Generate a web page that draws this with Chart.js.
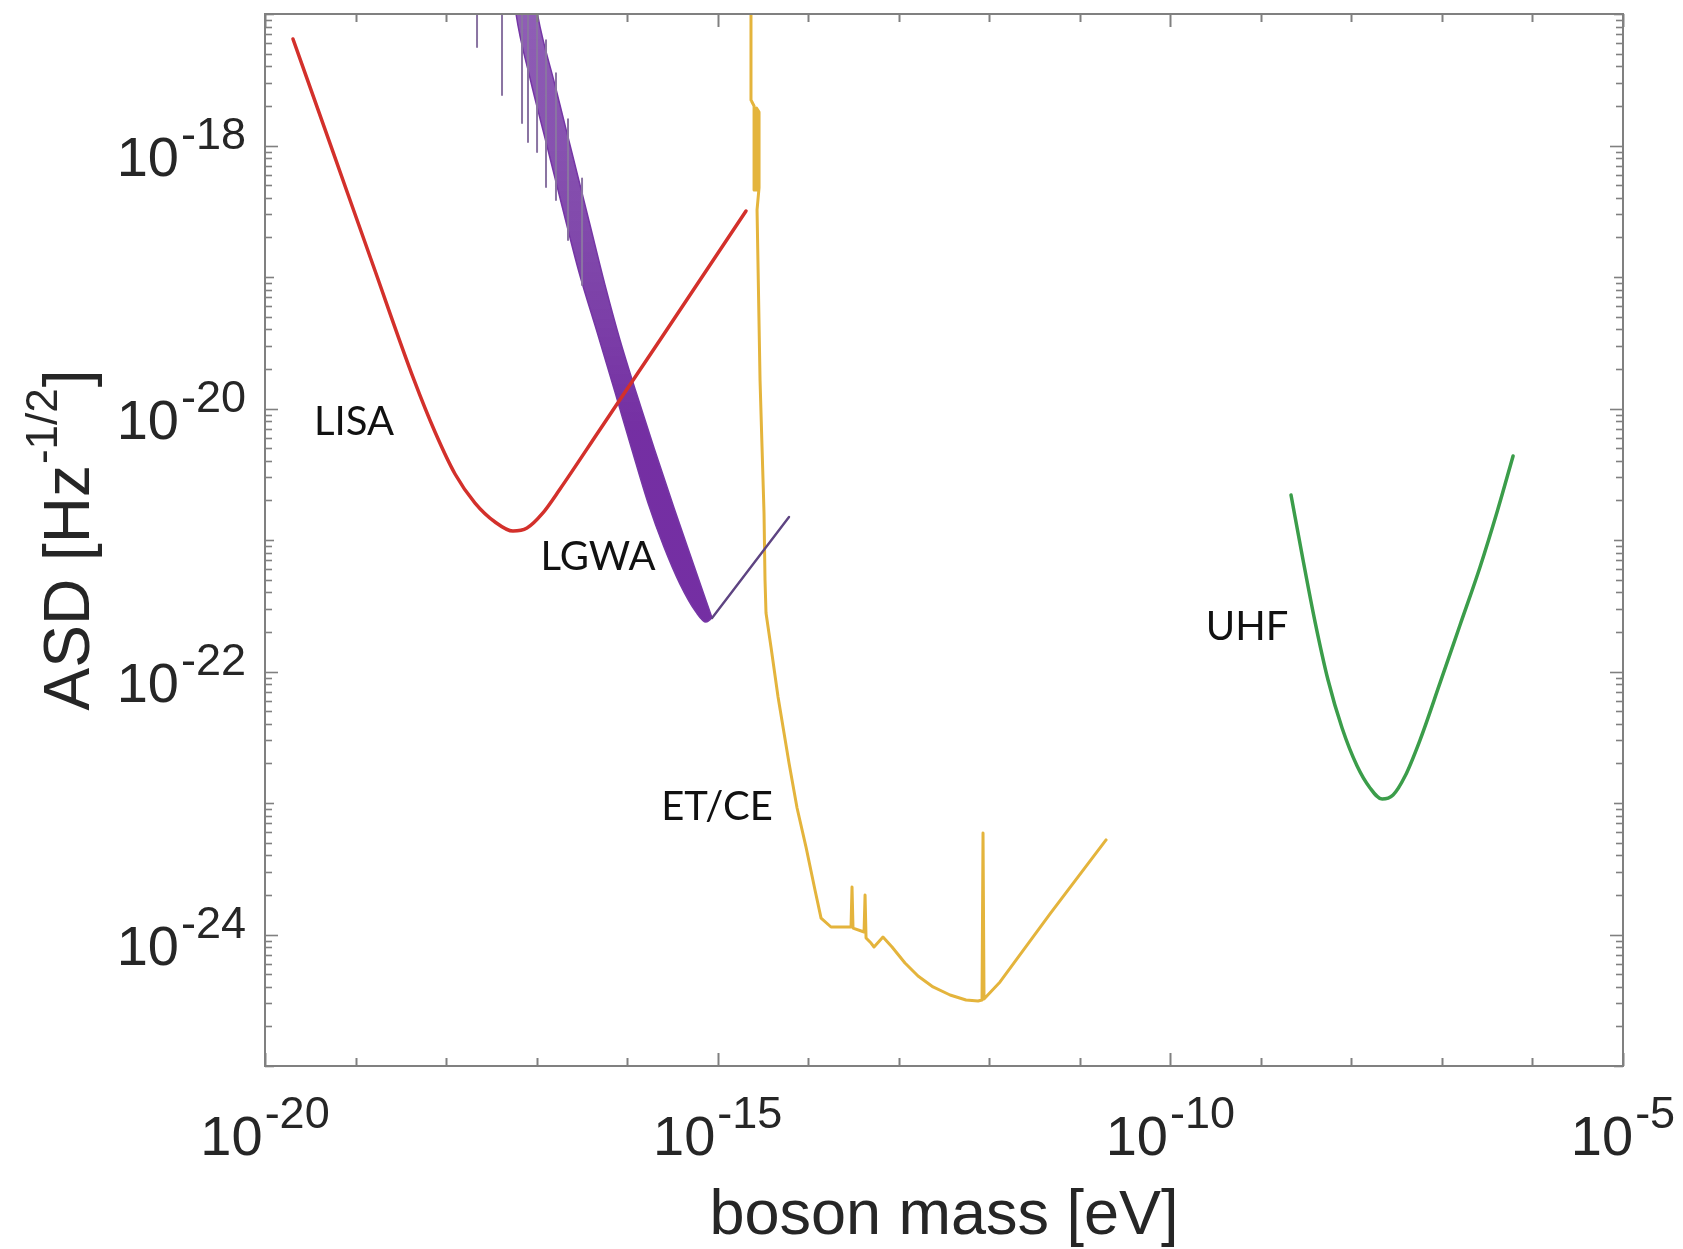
<!DOCTYPE html>
<html>
<head>
<meta charset="utf-8">
<title>Boson mass sensitivity</title>
<script src="https://cdn.jsdelivr.net/npm/chart.js@4.4.1/dist/chart.umd.min.js"></script>
<style>
  html, body { margin: 0; padding: 0; background: #ffffff; }
  #wrap { width: 1683px; height: 1249px; }
</style>
</head>
<body>
<div id="wrap"><canvas id="c" width="1683" height="1249"></canvas></div>
<script>
// All values are base-10 exponents: boson mass in eV, ASD in Hz^-1/2.

// LISA
const lisaLogMass = [-19.691, -19.249, -18.807, -18.354, -18.122, -17.901, -17.680, -17.459, -17.261, -17.106, -16.940, -16.741, -16.311, -15.637, -14.687];
const lisaLogAsd  = [-17.190, -18.049, -18.909, -19.783, -20.179, -20.498, -20.719, -20.863, -20.932, -20.909, -20.802, -20.612, -20.171, -19.479, -18.498];

// LGWA: upper and lower envelope of the dense resonance band
const lgwaUpperLogMass = [-17.349, -16.984, -16.797, -16.609, -16.421, -16.233, -16.079, -15.902, -15.703, -15.482, -15.261, -15.062];
const lgwaUpperLogAsd  = [-15.400, -17.023, -17.540, -18.057, -18.574, -19.091, -19.479, -19.875, -20.300, -20.757, -21.198, -21.593];
const lgwaLowerLogMass = [-17.349, -17.227, -17.073, -16.896, -16.719, -16.532, -16.322, -16.134, -15.946, -15.769, -15.593, -15.416, -15.239, -15.129, -15.062];
const lgwaLowerLogAsd  = [-16.285, -17.000, -17.487, -17.973, -18.460, -18.962, -19.441, -19.875, -20.316, -20.719, -21.053, -21.335, -21.548, -21.624, -21.593];
// LGWA: single resonance dips (from the curve down to the dip floor)
const lgwaDipLogMass = [-17.658, -17.382, -17.161, -17.095, -16.995, -16.896, -16.786, -16.653, -16.498];
const lgwaDipLogTop  = [-16.500, -16.500, -16.600, -16.700, -16.900, -17.200, -17.450, -17.800, -18.250];
const lgwaDipLogTip  = [-17.251, -17.616, -17.829, -17.973, -18.049, -18.316, -18.414, -18.719, -19.061];
// LGWA: high-mass tail
const lgwaTailLogMass = [-15.062, -14.212];
const lgwaTailLogAsd  = [-21.593, -20.825];

// ET/CE (the narrow resonance cluster near 2e-15 eV is traced back and forth)
const etLogMass = [-14.654, -14.632, -14.632, -14.598, -14.598, -14.571, -14.571, -14.543, -14.543, -14.565,
                   -14.532, -14.510, -14.488, -14.477, -14.466, -14.411, -14.333, -14.212, -14.123, -14.024, -13.925,
                   -13.858, -13.748, -13.582, -13.527, -13.516, -13.505, -13.383, -13.372, -13.361, -13.306, -13.273, -13.174,
                   -13.074, -12.931, -12.787, -12.621, -12.433, -12.257, -12.124, -12.080, -12.069, -12.058, -11.881, -11.329, -10.710];
const etLogAsd  = [-16.437, -17.000, -17.654, -17.700, -18.338, -18.338, -17.715, -17.745, -18.323, -18.490,
                   -19.783, -20.293, -20.795, -21.304, -21.555, -21.814, -22.194, -22.696, -23.038, -23.335, -23.662,
                   -23.875, -23.943, -23.943, -23.943, -23.639, -23.951, -23.981, -23.700, -24.027, -24.065, -24.095, -24.019,
                   -24.095, -24.217, -24.316, -24.399, -24.460, -24.498, -24.506, -24.498, -23.228, -24.490, -24.361, -23.844, -23.281];

// UHF
const uhfLogMass = [-8.667, -8.534, -8.401, -8.258, -8.103, -7.937, -7.794, -7.661, -7.540, -7.407, -7.242, -7.021, -6.800, -6.579, -6.391, -6.214];
const uhfLogAsd  = [-20.658, -21.152, -21.624, -22.065, -22.430, -22.719, -22.886, -22.970, -22.939, -22.795, -22.521, -22.087, -21.646, -21.205, -20.787, -20.361];

// Axis range and labelled tick exponents
const xRangeExp = [-20, -5];
const yRangeExp = [-25, -17];
const xTickExponents = [-20, -15, -10, -5];
const yTickExponents = [-24, -22, -20, -18];

// Curve names and where they are written (exponents of mass, ASD)
const curveNames = ['LISA', 'LGWA', 'ET/CE', 'UHF'];
const nameLogMass = [-19.017, -16.322, -15.007, -9.153];
const nameLogAsd  = [-20.103, -21.129, -23.030, -21.662];

// ---------------------------------------------------------------
const pow10 = v => Math.pow(10, v);
const toPoints = (m, a) => m.map((v, i) => ({ x: pow10(v), y: pow10(a[i]) }));
const dipPoints = () => {
  const out = [];
  lgwaDipLogMass.forEach((m, i) => {
    out.push({ x: pow10(m), y: pow10(lgwaDipLogTop[i]) });
    out.push({ x: pow10(m), y: pow10(lgwaDipLogTip[i]) });
    out.push({ x: pow10(m), y: null });
  });
  return out;
};

const AXIS = '#808080';
const INK = '#262626';
const TICK_FONT = '"Liberation Sans", Arial, Helvetica, sans-serif';

function bandFill(c) {
  const chart = c.chart;
  const area = chart.chartArea;
  if (!area) return 'rgba(112,48,160,0.9)';
  const g = chart.ctx.createLinearGradient(0, area.top, 0, area.bottom);
  g.addColorStop(0, 'rgba(116,54,164,0.8)');
  g.addColorStop(0.25, 'rgba(112,48,160,0.9)');
  g.addColorStop(0.4, 'rgba(112,40,160,0.97)');
  g.addColorStop(1, 'rgba(112,40,160,0.97)');
  return g;
}

function drawPower(ctx, exp, x, baseY, align) {
  const baseFont = '56px ' + TICK_FONT;
  const supFont = '45px ' + TICK_FONT;
  const sup = String(exp);
  ctx.font = baseFont;
  const wBase = ctx.measureText('10').width;
  ctx.font = supFont;
  const wSup = ctx.measureText(sup).width;
  const gap = 2;
  const total = wBase + gap + wSup;
  const left = align === 'center' ? x - total / 2 : x - total;
  ctx.textAlign = 'left';
  ctx.textBaseline = 'alphabetic';
  ctx.font = baseFont;
  ctx.fillText('10', left, baseY);
  ctx.font = supFont;
  ctx.fillText(sup, left + wBase + gap, baseY - 27);
}

// MATLAB-style boxed axes: inward ticks on all four sides, 10^n labels, titles, curve names
const boxedAxes = {
  id: 'boxedAxes',
  afterDatasetsDraw(chart) {
    const { ctx, chartArea: a, scales: { x, y } } = chart;
    ctx.save();
    ctx.strokeStyle = AXIS;
    ctx.lineWidth = 2;
    ctx.lineCap = 'butt';
    const seg = (x1, y1, x2, y2) => { ctx.beginPath(); ctx.moveTo(x1, y1); ctx.lineTo(x2, y2); ctx.stroke(); };

    // x ticks at every decade
    for (let e = xRangeExp[0]; e <= xRangeExp[1]; e++) {
      const px = Math.round(x.getPixelForValue(pow10(e))) + 0.5;
      const len = xTickExponents.includes(e) ? 13 : 8;
      seg(px, a.bottom, px, a.bottom - len);
      seg(px, a.top, px, a.top + len);
    }
    // y ticks: decades and 2..9 minor ticks
    ctx.lineWidth = 1.6;
    for (let e = yRangeExp[0]; e <= yRangeExp[1]; e++) {
      for (let m = 1; m <= 9; m++) {
        if (e === yRangeExp[1] && m > 1) break;
        const py = Math.round(y.getPixelForValue(m * pow10(e))) + 0.5;
        const len = m === 1 ? (yTickExponents.includes(e) ? 13 : 9) : 7;
        seg(a.left, py, a.left + len, py);
        seg(a.right, py, a.right - len, py);
      }
    }
    // frame
    ctx.lineWidth = 2;
    ctx.strokeRect(a.left, a.top, a.right - a.left, a.bottom - a.top);

    // tick labels
    ctx.fillStyle = INK;
    xTickExponents.forEach(e => drawPower(ctx, e, x.getPixelForValue(pow10(e)), a.bottom + 89, 'center'));
    yTickExponents.forEach(e => drawPower(ctx, e, a.left - 19, y.getPixelForValue(pow10(e)) + 30, 'right'));

    // axis titles
    ctx.font = '63px ' + TICK_FONT;
    ctx.textAlign = 'center';
    ctx.textBaseline = 'alphabetic';
    ctx.fillText('boson mass [eV]', (a.left + a.right) / 2, 1234);

    ctx.save();
    ctx.translate(89, (a.top + a.bottom) / 2);
    ctx.rotate(-Math.PI / 2);
    const mainFont = '64px ' + TICK_FONT;
    const supFont = '44px ' + TICK_FONT;
    ctx.font = mainFont; const w1 = ctx.measureText('ASD [Hz').width; const w3 = ctx.measureText(']').width;
    ctx.font = supFont; const w2 = ctx.measureText('-1/2').width;
    let sx = -(w1 + w2 + w3 + 2) / 2;
    ctx.textAlign = 'left';
    ctx.font = mainFont; ctx.fillText('ASD [Hz', sx, 0); sx += w1 + 1;
    ctx.font = supFont; ctx.fillText('-1/2', sx, -32); sx += w2 + 1;
    ctx.font = mainFont; ctx.fillText(']', sx, 0);
    ctx.restore();

    // curve names
    ctx.fillStyle = '#111111';
    ctx.font = '40px Lato, "Open Sans", sans-serif';
    ctx.textAlign = 'center';
    ctx.textBaseline = 'middle';
    curveNames.forEach((t, i) => {
      ctx.fillText(t, x.getPixelForValue(pow10(nameLogMass[i])), y.getPixelForValue(pow10(nameLogAsd[i])));
    });
    ctx.restore();
  }
};

const common = { pointRadius: 0, pointHoverRadius: 0, pointHitRadius: 0, borderJoinStyle: 'round', borderCapStyle: 'round', fill: false };

new Chart(document.getElementById('c'), {
  type: 'line',
  data: {
    datasets: [
      { ...common, label: 'LISA', data: toPoints(lisaLogMass, lisaLogAsd), borderColor: '#d3302b', borderWidth: 3.5, cubicInterpolationMode: 'monotone', order: 1 },
      { ...common, label: 'LGWA tail', data: toPoints(lgwaTailLogMass, lgwaTailLogAsd), borderColor: '#5e4482', borderWidth: 2.4, order: 2 },
      { ...common, label: 'LGWA dips', data: dipPoints(), borderColor: '#8a74a2', borderWidth: 2, spanGaps: false, borderCapStyle: 'butt', order: 3 },
      { ...common, label: 'LGWA lower', data: toPoints(lgwaLowerLogMass, lgwaLowerLogAsd), borderColor: '#7536a5', borderWidth: 1.5, cubicInterpolationMode: 'monotone', order: 4 },
      { ...common, label: 'LGWA upper', data: toPoints(lgwaUpperLogMass, lgwaUpperLogAsd), borderColor: '#7536a5', borderWidth: 1.5, cubicInterpolationMode: 'monotone', fill: { target: 3 }, backgroundColor: bandFill, order: 4 },
      { ...common, label: 'ET/CE', data: toPoints(etLogMass, etLogAsd), borderColor: '#e4b43c', borderWidth: 3, order: 6 },
      { ...common, label: 'UHF', data: toPoints(uhfLogMass, uhfLogAsd), borderColor: '#3b9d4a', borderWidth: 3.5, cubicInterpolationMode: 'monotone', order: 6 }
    ]
  },
  options: {
    responsive: false,
    animation: false,
    events: [],
    layout: { padding: { left: 265, right: 60, top: 14, bottom: 183 } },
    scales: {
      x: { type: 'logarithmic', min: pow10(xRangeExp[0]), max: pow10(xRangeExp[1]), bounds: 'data', display: false },
      y: { type: 'logarithmic', min: pow10(yRangeExp[0]), max: pow10(yRangeExp[1]), bounds: 'data', display: false }
    },
    plugins: { legend: { display: false }, tooltip: { enabled: false } }
  },
  plugins: [boxedAxes]
});
</script>
</body>
</html>
